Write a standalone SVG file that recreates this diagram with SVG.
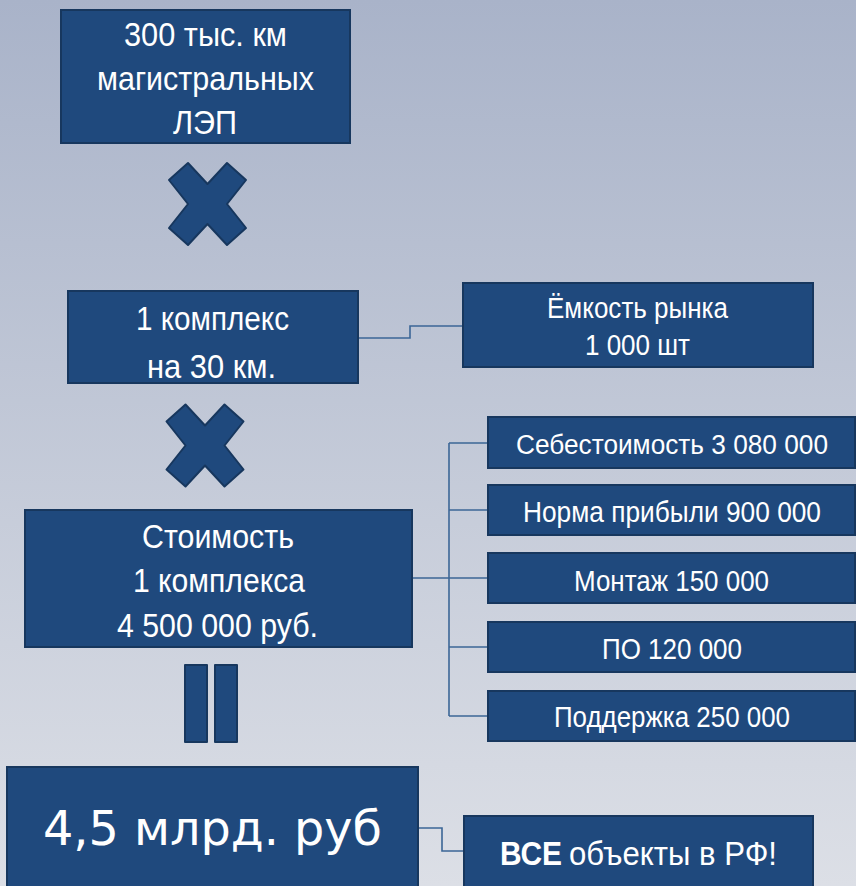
<svg xmlns="http://www.w3.org/2000/svg" width="856" height="886" viewBox="0 0 856 886">
<defs>
<linearGradient id="bg" x1="0" y1="0" x2="0" y2="1">
<stop offset="0" stop-color="#a9b3c9"/>
<stop offset="1" stop-color="#dcdfe6"/>
</linearGradient>
<path id="cross" d="M-38.5,-24 L-19.5,-41 L0,-20 L19.5,-41 L38.5,-24 L19.5,0 L38.5,24 L19.5,41 L0,20 L-19.5,41 L-38.5,24 L-19.5,0 Z"/>
</defs>
<style>
.box{fill:#1f497d;stroke:#17375e;stroke-width:2}
.shape{fill:#1f497d;stroke:#17375e;stroke-width:2;stroke-linejoin:round}
.t{fill:#ffffff;font-family:"Liberation Sans",Arial,sans-serif;font-size:34px}
.s{fill:#ffffff;font-family:"Liberation Sans",Arial,sans-serif;font-size:29px}
.b{fill:#ffffff;font-family:"DejaVu Sans",Verdana,sans-serif;font-size:48px}
.conn{fill:none;stroke:#3b6696;stroke-width:1.6}
</style>
<rect width="856" height="886" fill="url(#bg)"/>

<g id="connectors">
<polyline class="conn" points="358,338 410,338 410,326 463,326"/>
<polyline class="conn" points="412,578 449,578"/>
<line class="conn" x1="449" y1="443" x2="449" y2="716"/>
<line class="conn" x1="449" y1="443" x2="488" y2="443"/>
<line class="conn" x1="449" y1="510" x2="488" y2="510"/>
<line class="conn" x1="449" y1="578" x2="488" y2="578"/>
<line class="conn" x1="449" y1="647" x2="488" y2="647"/>
<line class="conn" x1="449" y1="716" x2="488" y2="716"/>
<polyline class="conn" points="418,828 442,828 442,851 464,851"/>
</g>

<g id="node-lines">
<rect class="box" x="61" y="10" width="289" height="133"/>
<text class="t" x="124" y="46" textLength="163" lengthAdjust="spacingAndGlyphs">300 тыс. км</text>
<text class="t" x="97" y="90" textLength="217" lengthAdjust="spacingAndGlyphs">магистральных</text>
<text class="t" x="173" y="134" textLength="64" lengthAdjust="spacingAndGlyphs">ЛЭП</text>
</g>

<g id="cross1">
<use href="#cross" class="shape" transform="translate(207.5,204)"/>
</g>

<g id="node-complex">
<rect class="box" x="68" y="291" width="290" height="92"/>
<text class="t" x="136" y="330" textLength="153" lengthAdjust="spacingAndGlyphs">1 комплекс</text>
<text class="t" x="147" y="378" textLength="129" lengthAdjust="spacingAndGlyphs">на 30 км.</text>
</g>

<g id="node-market">
<rect class="box" x="463" y="283" width="350" height="84"/>
<text class="s" x="547" y="318" textLength="181" lengthAdjust="spacingAndGlyphs">Ёмкость рынка</text>
<text class="s" x="585" y="355" textLength="105" lengthAdjust="spacingAndGlyphs">1 000 шт</text>
</g>

<g id="cross2">
<use href="#cross" class="shape" transform="translate(205,445.5)"/>
</g>

<g id="node-cost">
<rect class="box" x="25" y="510" width="387" height="137"/>
<text class="t" x="142" y="548" textLength="152" lengthAdjust="spacingAndGlyphs">Стоимость</text>
<text class="t" x="133" y="592" textLength="172" lengthAdjust="spacingAndGlyphs">1 комплекса</text>
<text class="t" x="117" y="637" textLength="201" lengthAdjust="spacingAndGlyphs">4 500 000 руб.</text>
</g>

<g id="node-sebest">
<rect class="box" x="488" y="417" width="367" height="51"/>
<text class="s" x="516" y="454" font-size="27" style="font-size:27px" textLength="312" lengthAdjust="spacingAndGlyphs">Себестоимость 3 080 000</text>
</g>
<g id="node-norma">
<rect class="box" x="488" y="485" width="367" height="50"/>
<text class="s" x="523" y="522" textLength="298" lengthAdjust="spacingAndGlyphs">Норма прибыли 900 000</text>
</g>
<g id="node-montazh">
<rect class="box" x="488" y="553" width="367" height="50"/>
<text class="s" x="574" y="591" textLength="195" lengthAdjust="spacingAndGlyphs">Монтаж 150 000</text>
</g>
<g id="node-po">
<rect class="box" x="488" y="622" width="367" height="50"/>
<text class="s" x="602" y="659" textLength="140" lengthAdjust="spacingAndGlyphs">ПО 120 000</text>
</g>
<g id="node-support">
<rect class="box" x="488" y="691" width="367" height="50"/>
<text class="s" x="554" y="727" textLength="236" lengthAdjust="spacingAndGlyphs">Поддержка 250 000</text>
</g>

<g id="equals">
<rect class="shape" x="185" y="665" width="22" height="77"/>
<rect class="shape" x="215" y="665" width="22" height="77"/>
</g>

<g id="node-total">
<rect class="box" x="7" y="767" width="411" height="130"/>
<text class="b" x="43" y="845" textLength="339" lengthAdjust="spacingAndGlyphs">4,5 млрд. руб</text>
</g>

<g id="node-all">
<rect class="box" x="464" y="816" width="349" height="80"/>
<text class="t" x="500" y="865" font-weight="bold" textLength="62" lengthAdjust="spacingAndGlyphs">ВСЕ</text>
<text class="t" x="569" y="865" textLength="208" lengthAdjust="spacingAndGlyphs">объекты в РФ!</text>
</g>
</svg>
